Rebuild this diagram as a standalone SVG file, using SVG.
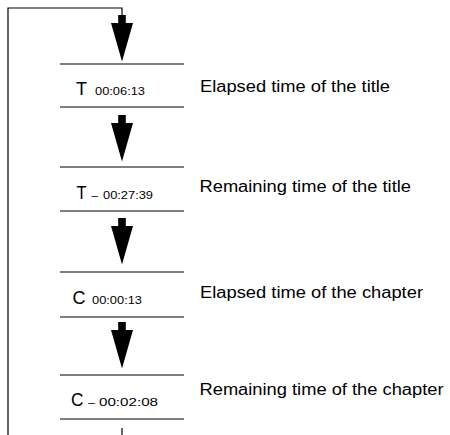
<svg xmlns="http://www.w3.org/2000/svg" width="450" height="435" viewBox="0 0 450 435">
<style>
  .sep { stroke: #555; stroke-width: 1.5; fill: none; }
  .wire { stroke: #000; stroke-width: 1.2; fill: none; }
  .big { font-family: "Liberation Sans", Arial, sans-serif; font-size: 19px; fill: #000; }
  .small { font-family: "Liberation Sans", Arial, sans-serif; font-size: 11px; fill: #000; }
  .label { font-family: "Liberation Sans", Arial, sans-serif; font-size: 16px; fill: #000; }
  .arrow { fill: #000; }
</style>
<defs>
  <path id="arr" class="arrow" d="M-3.8,0 H3.8 V8 H11 L0,46.5 L-11,8 H-3.8 Z"/>
</defs>
<g id="connectors">
  <polyline class="wire" points="122,15 122,8 8,8 8,435"/>
  <use href="#arr" x="122" y="15"/>
  <use href="#arr" x="122" y="115"/>
  <use href="#arr" x="122" y="218"/>
  <use href="#arr" x="122" y="322"/>
  <line class="wire" x1="122" y1="428" x2="122" y2="435"/>
</g>
<g id="node1">
  <line class="sep" x1="60" y1="64" x2="184" y2="64"/>
  <line class="sep" x1="60" y1="107" x2="184" y2="107"/>
  <text class="big" x="76" y="94.5" textLength="11" lengthAdjust="spacingAndGlyphs">T</text>
  <text class="small" x="95" y="94.5" textLength="50" lengthAdjust="spacingAndGlyphs">00:06:13</text>
</g>
<g id="node2">
  <line class="sep" x1="60" y1="167" x2="184" y2="167"/>
  <line class="sep" x1="60" y1="211" x2="184" y2="211"/>
  <text class="big" x="76.5" y="198.5" textLength="10" lengthAdjust="spacingAndGlyphs">T</text>
  <text class="small" x="91.5" y="198.5" textLength="6.5" lengthAdjust="spacingAndGlyphs">–</text>
  <text class="small" x="103" y="198.5" textLength="50" lengthAdjust="spacingAndGlyphs">00:27:39</text>
</g>
<g id="node3">
  <line class="sep" x1="60" y1="272" x2="184" y2="272"/>
  <line class="sep" x1="60" y1="317" x2="184" y2="317"/>
  <text class="big" x="72.5" y="303.5" textLength="13" lengthAdjust="spacingAndGlyphs">C</text>
  <text class="small" x="92" y="303.5" textLength="50" lengthAdjust="spacingAndGlyphs">00:00:13</text>
</g>
<g id="node4">
  <line class="sep" x1="60" y1="375" x2="184" y2="375"/>
  <line class="sep" x1="60" y1="419" x2="184" y2="419"/>
  <text class="big" x="71" y="405.5" textLength="12.5" lengthAdjust="spacingAndGlyphs">C</text>
  <text class="small" x="88" y="405.5" textLength="7" lengthAdjust="spacingAndGlyphs">–</text>
  <text class="small" x="99" y="405.5" textLength="59" lengthAdjust="spacingAndGlyphs">00:02:08</text>
</g>
<g id="labels">
  <text class="label" x="200" y="91.5" textLength="190" lengthAdjust="spacingAndGlyphs">Elapsed time of the title</text>
  <text class="label" x="199.5" y="191.5" textLength="211.5" lengthAdjust="spacingAndGlyphs">Remaining time of the title</text>
  <text class="label" x="200" y="297.5" textLength="223" lengthAdjust="spacingAndGlyphs">Elapsed time of the chapter</text>
  <text class="label" x="199.5" y="394.5" textLength="244" lengthAdjust="spacingAndGlyphs">Remaining time of the chapter</text>
</g>
</svg>
